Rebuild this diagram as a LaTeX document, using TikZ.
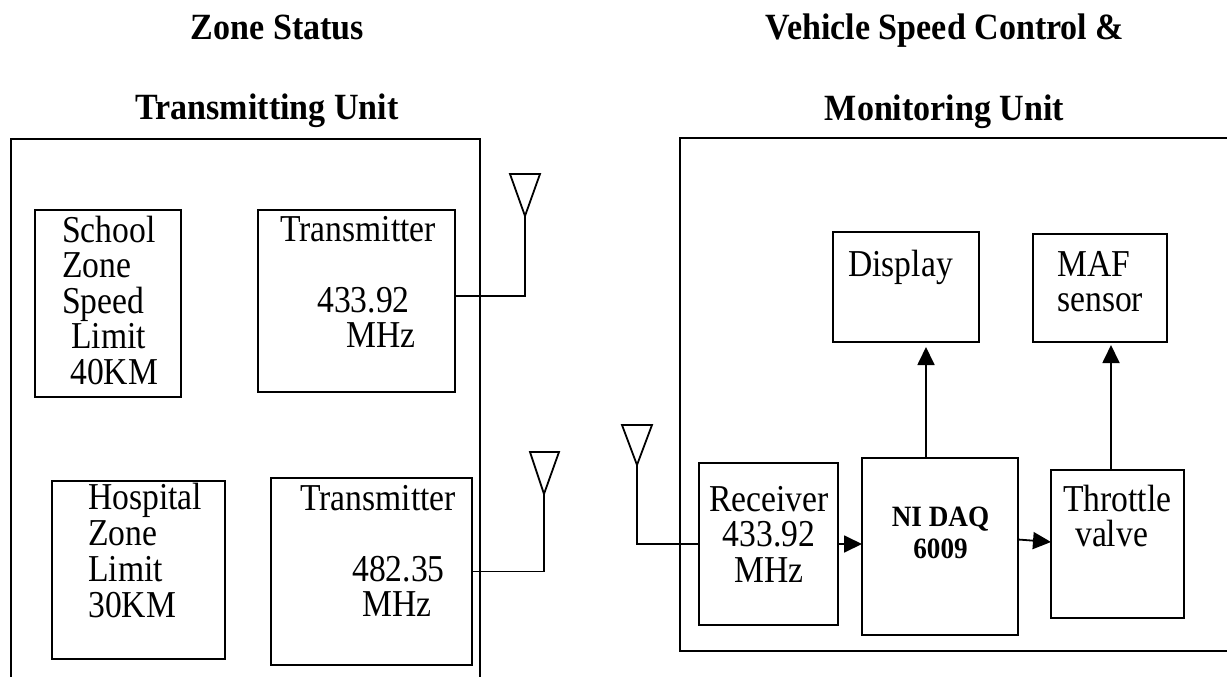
\documentclass[tikz,border=0pt]{standalone}
\usepackage{fontspec}
\setmainfont{Liberation Serif}[FakeStretch=0.885]
\newfontfamily\headfont{Liberation Serif}[FakeStretch=0.92]
\usetikzlibrary{arrows.meta}
\tikzset{
  wire/.style={line width=1.8pt},
  box/.style={draw, wire, rectangle, inner sep=0pt, outer sep=0pt, anchor=north west},
  body/.style={font=\fontsize{38}{35.5}\selectfont, inner sep=0pt, anchor=north west, align=left},
  bodyc/.style={body, anchor=north, align=center},
  title/.style={font=\headfont\fontsize{37}{40}\selectfont\bfseries, inner sep=0pt, anchor=base},
  daqtext/.style={font=\headfont\fontsize{29.5}{32}\selectfont\bfseries, inner sep=0pt, anchor=north, align=center},
  arr/.style={wire, -{Triangle[length=18pt,width=17pt]}},
}
% invisible strut fixing the height of the first text line
\newcommand{\topstrut}[1][28pt]{\rule{0pt}{#1}}
\begin{document}
\begin{tikzpicture}[x=1pt, y=-1pt]
\useasboundingbox (0,0) rectangle (1227,677);

% ---------- headings ----------
\node[title] (h1) at (277.5,40) {Zone Status};
\node[title] (h2) at (267,120) {Transmitting Unit};
\node[title] (h3) at (945,40) {Vehicle Speed Control \&};
\node[title] (h4) at (944.5,121) {Monitoring Unit};

% ---------- unit frames ----------
\draw[wire] (11,680) -- (11,139) -- (480,139) -- (480,680);
\draw[wire] (1232,138) -- (680,138) -- (680,651) -- (1232,651);

% ---------- transmitting unit ----------
\node[box, minimum width=146pt, minimum height=187pt] (school) at (35,210) {};
\node[body] at (62,214) {\topstrut School\\Zone\\Speed\\\hspace*{9pt}Limit\\\hspace*{8pt}40KM};

\node[box, minimum width=197pt, minimum height=182pt] (tx1) at (258,210) {};
\node[body] at (280,213) {\topstrut Transmitter\\[35.5pt]\hspace*{37pt}433.92\\\hspace*{66pt}MHz};

\node[box, minimum width=173pt, minimum height=178pt] (hosp) at (52,481) {};
\node[body, font=\fontsize{38}{36}\selectfont] at (88,481) {\topstrut Hospital\\Zone\\Limit\\30KM};

\node[box, minimum width=201pt, minimum height=187pt] (tx2) at (271,478) {};
\node[body] at (300,482) {\topstrut Transmitter\\[35.5pt]\hspace*{52pt}482.35\\\hspace*{62pt}MHz};

% antennas of the transmitters
\coordinate (a1) at (525,216);
\coordinate (a1f) at (525,296);
\draw[wire] (510,174) -- (540,174) -- (a1) -- cycle;
\draw[wire] (tx1.east |- a1f) -- (a1f) -- (a1);

\coordinate (a2) at (544,494);
\draw[wire] (530,452) -- (559,452) -- (a2) -- cycle;
\draw[wire] (tx2.east) -| (a2);

% ---------- vehicle unit ----------
\node[box, minimum width=139pt, minimum height=162pt] (recv) at (699,463) {};
\node[bodyc] at (769,483) {\topstrut Receiver\\433.92\\MHz};

\node[box, minimum width=156pt, minimum height=177pt] (daq) at (862,458) {};
\node[daqtext] at (940.5,503) {\topstrut[23pt]NI DAQ\\6009};

\node[box, minimum width=133pt, minimum height=148pt] (thr) at (1051,470) {};
\node[body] at (1063,483) {\topstrut Throttle\\\hspace*{12pt}valve};

\node[box, minimum width=146pt, minimum height=110pt] (disp) at (833,232) {};
\node[body] at (848,248) {\topstrut Display};

\node[box, minimum width=134pt, minimum height=108pt] (maf) at (1033,234) {};
\node[body] at (1057,248) {\topstrut MAF\\sensor};

% receiving antenna
\coordinate (a3) at (637,465);
\draw[wire] (622,425) -- (652,425) -- (a3) -- cycle;
\draw[wire] (a3) |- (recv.west);

% signal flow
\coordinate (dx) at (926,0);
\coordinate (mx) at (1111,0);
\draw[arr] (recv.east) -- (daq.west |- recv.east);
\draw[arr] ([yshift=7pt]daq.east) -- ([yshift=2pt]thr.west);
\draw[arr] (daq.north -| dx) -- ([yshift=-5pt]disp.south -| dx);
\draw[arr] (thr.north -| mx) -- ([yshift=-3pt]maf.south -| mx);
\end{tikzpicture}
\end{document}
